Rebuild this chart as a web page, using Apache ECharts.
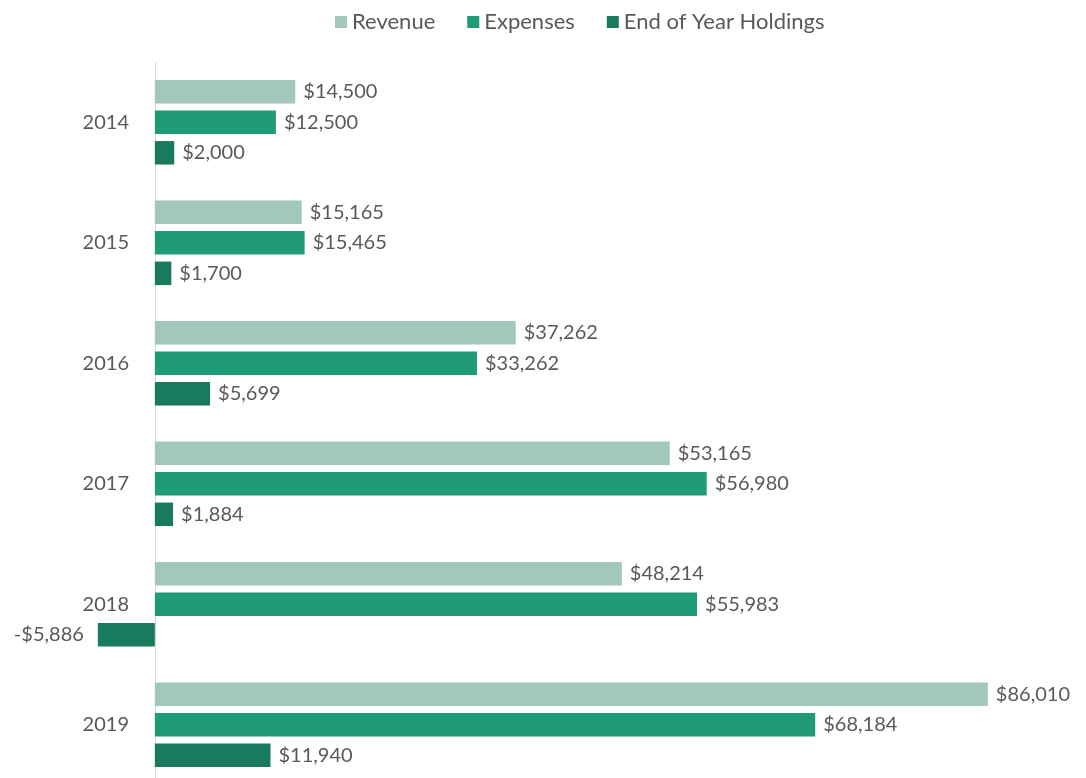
<!DOCTYPE html>
<html>
<head>
<meta charset="utf-8">
<script src="https://cdn.jsdelivr.net/npm/echarts@6/dist/echarts.min.js"></script>
<style>
html,body{margin:0;padding:0;background:#fff;}
#chart{width:1086px;height:778px;}
</style>
</head>
<body>
<div id="chart"></div>
<script>
var years = ['2014','2015','2016','2017','2018','2019'];
var revenue = [14500, 15165, 37262, 53165, 48214, 86010];
var expenses = [12500, 15465, 33262, 56980, 55983, 68184];
var holdings = [2000, 1700, 5699, 1884, -5886, 11940];

var chart = echarts.init(document.getElementById('chart'));

// 金额格式 $12,345 / -$5,886
function money(v){
    var s = '$' + Math.abs(v).toLocaleString('en-US');
    return v < 0 ? '-' + s : s;
}

var font = 'Lato, "Open Sans", sans-serif';
var labelStyle = {
    show: true,
    position: 'right',
    distance: 8,
    color: '#595959',
    fontSize: 20,
    fontFamily: font,
    formatter: function(p){ return money(p.value); }
};

chart.setOption({
    animation: false,
    legend: {
        top: 6,
        left: 330,
        itemWidth: 12,
        itemHeight: 12,
        itemGap: 32,
        icon: 'rect',
        textStyle: {color: '#595959', fontSize: 22, fontFamily: font},
        data: ['Revenue', 'Expenses', 'End of Year Holdings']
    },
    grid: {
        left: 58,
        top: 62,
        width: 968.5,
        height: 723,
        containLabel: false,
        outerBoundsMode: 'none'
    },
    xAxis: {
        type: 'value',
        min: -10000,
        max: 90000,
        show: false,
        splitLine: {show: false}
    },
    yAxis: {
        type: 'category',
        inverse: true,
        data: years,
        axisLine: {show: true, onZero: true, lineStyle: {color: '#d9d9d9', width: 1}},
        axisTick: {show: false},
        axisLabel: {color: '#595959', fontSize: 20, fontFamily: font, margin: -71}
    },
    series: [
        {
            name: 'Revenue',
            type: 'bar',
            data: revenue,
            barWidth: 23.5,
            barGap: '30%',
            itemStyle: {color: '#a2c8b9'},
            label: labelStyle
        },
        {
            name: 'Expenses',
            type: 'bar',
            data: expenses,
            barWidth: 23.5,
            barGap: '30%',
            itemStyle: {color: '#1f9b77'},
            label: labelStyle
        },
        {
            name: 'End of Year Holdings',
            type: 'bar',
            data: holdings.map(function(v){
                return v < 0 ? {value: v, label: {position: 'left', distance: 14}} : v;
            }),
            barWidth: 23.5,
            barGap: '30%',
            itemStyle: {color: '#1a7a5d'},
            label: labelStyle
        }
    ]
});
</script>
</body>
</html>
